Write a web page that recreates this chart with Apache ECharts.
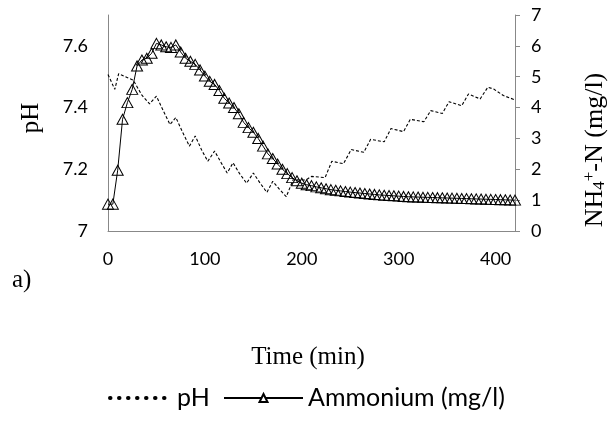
<!DOCTYPE html>
<html>
<head>
<meta charset="utf-8">
<script src="https://cdn.jsdelivr.net/npm/echarts@6/dist/echarts.min.js"></script>
<style>html,body{margin:0;padding:0;background:#fff}#c{width:609px;height:421px}</style>
</head>
<body>
<div id="c"></div>
<script>
// pH readings: [time (min), pH]
const phTimes = [0,7,11,18,26,35,43,50,57,64,70,77,84,90,97,103,110,117,123,129,136,143,150,157,164,170,177,184,191,204,210,224,231,243,251,264,271,285,292,305,312,326,333,345,352,365,372,384,392,398,408,420];
const phValues = [7.507,7.459,7.51,7.50,7.489,7.44,7.412,7.437,7.39,7.345,7.368,7.32,7.275,7.308,7.26,7.226,7.259,7.22,7.188,7.221,7.185,7.155,7.188,7.155,7.125,7.161,7.135,7.111,7.166,7.165,7.177,7.173,7.226,7.218,7.264,7.255,7.297,7.289,7.332,7.322,7.362,7.354,7.39,7.381,7.419,7.406,7.444,7.428,7.466,7.46,7.439,7.425];
// Ammonium readings every 5 min
const nhTimes = [0,5,10,15,20,25,30,35,40,45,50,55,60,65,70,75,80,85,90,95,100,105,110,115,120,125,130,135,140,145,150,155,160,165,170,175,180,185,190,195,200,205,210,215,220,225,230,235,240,245,250,255,260,265,270,275,280,285,290,295,300,305,310,315,320,325,330,335,340,345,350,355,360,365,370,375,380,385,390,395,400,405,410,415,420];
const nhValues = [0.87,0.87,1.97,3.62,4.16,4.59,5.35,5.54,5.6,5.76,6.08,6.03,5.97,5.95,6.03,5.8,5.6,5.5,5.4,5.22,5.02,4.85,4.75,4.55,4.3,4.15,4.0,3.8,3.52,3.35,3.2,3.0,2.75,2.5,2.35,2.17,2.0,1.86,1.73,1.63,1.55,1.5,1.47,1.43,1.40,1.37,1.34,1.32,1.30,1.28,1.26,1.245,1.23,1.215,1.20,1.185,1.17,1.16,1.15,1.14,1.13,1.12,1.11,1.105,1.10,1.095,1.09,1.085,1.08,1.075,1.07,1.065,1.06,1.055,1.05,1.045,1.04,1.035,1.03,1.025,1.02,1.015,1.01,1.005,1.0];
const xTickLabels = ['0','100','200','300','400'];
const phTickLabels = ['7','7.2','7.4','7.6'];
const nhTickLabels = ['0','1','2','3','4','5','6','7'];

const phData = phTimes.map((t,i)=>[t, phValues[i]]);
const nhData = nhTimes.map((t,i)=>[t, nhValues[i]]);

const axisColor = '#888888';
const labelFont = {fontFamily:'Lato', fontSize:18, color:'#000'};
const legendFont = {fontFamily:'Lato', fontSize:25, color:'#000', lineHeight:26};
const serif = 'Liberation Serif';

const chart = echarts.init(document.getElementById('c'));
chart.setOption({
  animation:false,
  backgroundColor:'#fff',
  grid:{left:108, right:94, top:15, bottom:190, containLabel:false},
  xAxis:{type:'value', min:0, max:420, interval:100,
    axisLine:{show:true, lineStyle:{color:axisColor, width:1}},
    axisTick:{show:false}, splitLine:{show:false},
    axisLabel:Object.assign({margin:19, showMaxLabel:false,
      formatter:v=>xTickLabels[v/100]||''}, labelFont)},
  yAxis:[
    {type:'value', min:7, max:7.7, interval:0.2, position:'left',
      axisLine:{show:true, lineStyle:{color:axisColor, width:1}},
      axisTick:{show:false}, splitLine:{show:false},
      axisLabel:Object.assign({margin:20, showMaxLabel:false,
        formatter:v=>{const i=Math.round((v-7)/0.2);return Math.abs(v-(7+i*0.2))<1e-6?(phTickLabels[i]||''):'';}}, labelFont)},
    {type:'value', min:0, max:7, interval:1, position:'right',
      axisLine:{show:true, lineStyle:{color:axisColor, width:1}},
      axisTick:{show:true, inside:false, length:5, lineStyle:{color:axisColor}}, splitLine:{show:false},
      axisLabel:Object.assign({margin:16, formatter:v=>nhTickLabels[v]||''}, labelFont)}
  ],
  legend:[
    {data:[{name:'pH', itemStyle:{color:'rgba(0,0,0,0)', borderWidth:0, opacity:0},
        lineStyle:{type:[0.5,8.5], width:4, cap:'round', color:'#000'}}],
      left:108, top:385, padding:0, itemWidth:62, itemHeight:20, itemGap:0, textStyle:legendFont},
    {data:[{name:'Ammonium (mg/l)', itemStyle:{color:'#fff', borderColor:'#000', borderWidth:2}}],
      left:223, top:385, padding:0, itemWidth:79, itemHeight:10, textStyle:legendFont}
  ],
  series:[
    {name:'pH', type:'line', yAxisIndex:0, data:phData, symbol:'none',
      lineStyle:{color:'#000', width:1.1, type:[3,2]}, z:2},
    {name:'Ammonium (mg/l)', type:'line', yAxisIndex:1, data:nhData,
      symbol:'triangle', symbolSize:[11,10], showSymbol:true, showAllSymbol:true,
      itemStyle:{color:'rgba(255,255,255,0)', borderColor:'#000', borderWidth:1},
      lineStyle:{color:'#000', width:1}, z:3}
  ],
  graphic:[
    {type:'text', x:31, y:118, rotation:Math.PI/2,
      style:{text:'pH', font:'25px "'+serif+'"', fill:'#000', align:'center', verticalAlign:'middle'}},
    {type:'text', x:595, y:150, rotation:Math.PI/2,
      style:{text:'{a|NH}{b|4}{c|+}{a|-N (mg/l)}', align:'center', verticalAlign:'middle', fill:'#000',
        rich:{a:{fontFamily:serif, fontSize:26, fill:'#000'},
              b:{fontFamily:serif, fontSize:17, fill:'#000', verticalAlign:'bottom', padding:[8,0,0,0]},
              c:{fontFamily:serif, fontSize:17, fill:'#000', verticalAlign:'top', padding:[0,0,10,0]}}}},
    {type:'text', x:308, y:357,
      style:{text:'Time (min)', font:'25px "'+serif+'"', fill:'#000', align:'center', verticalAlign:'middle'}},
    {type:'text', x:12, y:280,
      style:{text:'a)', font:'25px "'+serif+'"', fill:'#000', align:'left', verticalAlign:'middle'}}
  ]
});
</script>
</body>
</html>
